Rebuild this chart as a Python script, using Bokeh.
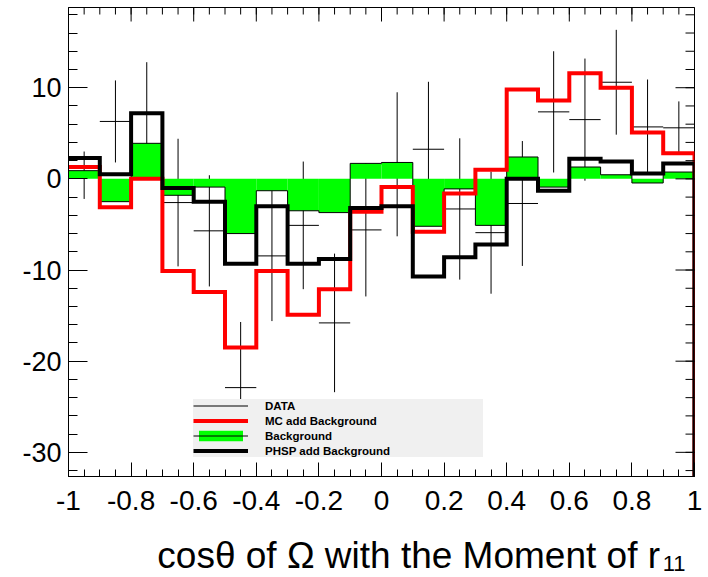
import numpy as np
from bokeh.plotting import figure
from bokeh.layouts import column
from bokeh.models import Range1d, FixedTicker, Legend, LegendItem
from bokeh.core.properties import value
from bokeh.embed import file_html
from bokeh.resources import INLINE

# ---------------- data ----------------
BIN_EDGES = [-1.0, -0.9, -0.8, -0.7, -0.6, -0.5, -0.4, -0.3, -0.2, -0.1, 0.0,
             0.1, 0.2, 0.3, 0.4, 0.5, 0.6, 0.7, 0.8, 0.9, 1.0]
DATA_VAL = [0.4, 6.3, 7.2, -2.6, -5.7, -22.9, -8.45, -5.1, -15.8, -5.6,
            1.6, 3.25, -3.3, -5.9, -2.7, 7.35, 6.5, 10.6, 5.7, 5.6]
DATA_ERR = [2.6, 4.5, 5.6, 7.0, 6.1, 7.2, 7.15, 7.0, 7.6, 7.3,
            7.9, 7.4, 7.75, 6.7, 6.85, 6.65, 6.7, 5.75, 5.2, 2.9]
MC_ADD_BKG = [1.3, -3.1, 0.0, -10.1, -12.4, -18.5, -10.1, -14.9, -12.1, -3.6,
              -0.9, -5.8, -1.6, 1.0, 9.8, 8.6, 11.6, 10.0, 5.1, 2.8]
BKG = [0.9, -2.5, 3.9, -1.8, -0.9, -6.0, -1.3, -3.5, -3.7, 1.7,
       1.8, -5.2, -1.1, -5.1, 2.4, -0.9, 1.3, 0.45, -0.45, 0.75]
PHSP_ADD_BKG = [2.3, 0.5, 7.2, -1.0, -2.5, -9.3, -3.0, -9.3, -8.8, -3.2,
                -3.0, -10.7, -8.6, -7.2, 0.0, -1.3, 2.2, 1.9, 0.6, 1.7]

X_TICKS = [-1, -0.8, -0.6, -0.4, -0.2, 0, 0.2, 0.4, 0.6, 0.8, 1]
X_TICK_LABELS = ["-1", "-0.8", "-0.6", "-0.4", "-0.2", "0", "0.2", "0.4", "0.6", "0.8", "1"]
Y_TICKS = [-30, -20, -10, 0, 10]
Y_TICK_LABELS = ["-30", "-20", "-10", "0", "10"]
X_TITLE = "cosθ of Ω with the Moment of r"
X_TITLE_SUB = "11"
LEGEND_LABELS = ["DATA", "MC add Background", "Background", "PHSP add Background"]

# ---------------- styling constants ----------------
X_MIN, X_MAX = -1.0, 1.0
Y_MIN, Y_MAX = -32.65, 18.8
FONT = "Liberation Sans"

edges = np.array(BIN_EDGES)
left = edges[:-1]
right = edges[1:]
centers = (left + right) / 2.0
val = np.array(DATA_VAL)
err = np.array(DATA_ERR)

p = figure(width=708, height=520, x_range=Range1d(X_MIN, X_MAX),
           y_range=Range1d(Y_MIN, Y_MAX), output_backend="svg",
           toolbar_location=None, min_border_left=68, min_border_right=14,
           min_border_top=7, min_border_bottom=44)
p.xgrid.visible = False
p.ygrid.visible = False
p.outline_line_color = "black"
p.outline_line_width = 1
p.background_fill_color = "white"
p.border_fill_color = "white"

# data error bars
data_v = p.segment(x0=centers, y0=val - err, x1=centers, y1=val + err,
                   line_color="black", line_width=1)
data_h = p.segment(x0=left, y0=val, x1=right, y1=val,
                   line_color="black", line_width=1)

# background (green filled histogram)
bkg_q = p.quad(left=left, right=right, bottom=0, top=BKG,
               fill_color="#00ff00", line_color=None)
bkg_l = p.step(x=edges, y=list(BKG) + [BKG[-1]], mode="after",
               line_color="black", line_width=1)

# MC + background (red)
mc_l = p.step(x=edges, y=list(MC_ADD_BKG) + [Y_MIN], mode="after",
              line_color="#ff0000", line_width=4, line_join="miter")
# PHSP + background (black)
ph_l = p.step(x=edges, y=list(PHSP_ADD_BKG) + [Y_MIN], mode="after",
              line_color="black", line_width=4, line_join="miter")

# empty white box used only as legend-entry background
white_box = p.quad(left=[], right=[], bottom=[], top=[],
                   fill_color="white", line_color=None)

# ---------------- axes ----------------
x_minor = [float(v) for v in np.round(np.arange(-1.0, 1.0001, 0.05), 3)]
y_minor = [float(v) for v in np.arange(-32, 19, 2)]

xa = p.xaxis[0]
xa.ticker = FixedTicker(ticks=X_TICKS, minor_ticks=x_minor)
xa.major_tick_in = 14
xa.major_tick_out = 0
xa.minor_tick_in = 7
xa.minor_tick_out = 0
xa.axis_line_color = "black"
xa.major_label_overrides = dict(zip(X_TICKS, X_TICK_LABELS))
xa.major_label_text_font = FONT
xa.major_label_text_font_size = "28px"
xa.major_label_text_color = "black"
xa.major_label_standoff = 14

ya = p.yaxis[0]
ya.ticker = FixedTicker(ticks=Y_TICKS, minor_ticks=y_minor)
ya.major_tick_in = 19
ya.major_tick_out = 0
ya.minor_tick_in = 9
ya.minor_tick_out = 0
ya.axis_line_color = "black"
ya.major_label_overrides = dict(zip(Y_TICKS, Y_TICK_LABELS))
ya.major_label_text_font = FONT
ya.major_label_text_font_size = "27px"
ya.major_label_text_color = "black"
ya.major_label_standoff = 7

# mirrored ticks on the top and right frame edges (half of each dash is clipped away)
p.scatter(x=X_TICKS, y=Y_MAX, marker="dash", angle=np.pi / 2, size=28,
          line_color="black", line_width=1)
p.scatter(x=x_minor, y=Y_MAX, marker="dash", angle=np.pi / 2, size=14,
          line_color="black", line_width=1)
p.scatter(x=X_MAX, y=Y_TICKS, marker="dash", size=38,
          line_color="black", line_width=1)
p.scatter(x=X_MAX, y=y_minor, marker="dash", size=18,
          line_color="black", line_width=1)

# ---------------- legend ----------------
items = [
    LegendItem(label=LEGEND_LABELS[0], renderers=[white_box, data_h]),
    LegendItem(label=LEGEND_LABELS[1], renderers=[white_box, mc_l]),
    LegendItem(label=LEGEND_LABELS[2], renderers=[bkg_q, bkg_l]),
    LegendItem(label=LEGEND_LABELS[3], renderers=[white_box, ph_l]),
]
legend = Legend(items=items, location=(125, 19), padding=1, spacing=2, margin=0,
                glyph_width=55, glyph_height=13, label_height=13,
                label_width=218, label_standoff=17,
                background_fill_color="#f0f0f0", background_fill_alpha=1.0,
                border_line_color=None,
                label_text_font=FONT, label_text_font_size="11.5px",
                label_text_font_style="bold", label_text_color="black")
p.add_layout(legend)

# ---------------- axis title strip ----------------
t = figure(width=708, height=57, x_range=Range1d(0, 708), y_range=Range1d(0, 57),
           output_backend="svg", toolbar_location=None,
           x_axis_location=None, y_axis_location=None,
           min_border_left=0, min_border_right=0, min_border_top=0, min_border_bottom=0)
t.xgrid.visible = False
t.ygrid.visible = False
t.outline_line_color = None
t.background_fill_color = "white"
t.border_fill_color = "white"
t.text(x=[669], y=[22], text=[X_TITLE], text_align="right", text_baseline="alphabetic",
       text_font=value(FONT), text_font_size="37px", text_color="black")
t.text(x=[672], y=[14], text=[X_TITLE_SUB], text_align="left", text_baseline="middle",
       text_font=value(FONT), text_font_size="22px", text_color="black")

layout = column(p, t, spacing=0)
open("out.html", "w").write(file_html(layout, INLINE))
